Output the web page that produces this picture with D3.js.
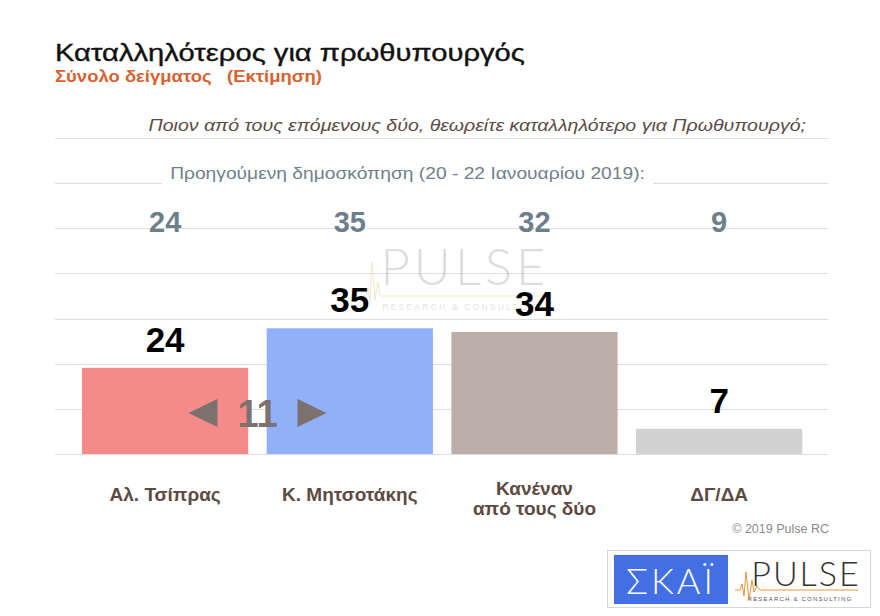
<!DOCTYPE html>
<html><head><meta charset="utf-8">
<script src="https://cdn.jsdelivr.net/npm/d3@7"></script>
<style>
html,body{margin:0;padding:0;background:#fff;}
svg{display:block;font-family:"Liberation Sans",Arial,sans-serif;}
</style></head>
<body><svg id="chart" width="880" height="616"></svg>
<script>
// ---- data ----
const categories = ["Αλ. Τσίπρας", "Κ. Μητσοτάκης", "Κανέναν\nαπό τους δύο", "ΔΓ/ΔΑ"];
const currentValues = [24, 35, 34, 7];
const previousValues = [24, 35, 32, 9];
const barColors = ["#f58b88", "#91b0f7", "#bcaea9", "#d2d2d2"];
const titleText = "Καταλληλότερος για πρωθυπουργός";
const subtitleText = "Σύνολο δείγματος   (Εκτίμηση)";
const questionText = "Ποιον από τους επόμενους δύο, θεωρείτε καταλληλότερο για Πρωθυπουργό;";
const previousLabel = "Προηγούμενη δημοσκόπηση (20 - 22 Ιανουαρίου 2019):";
const copyrightText = "© 2019 Pulse RC";

const svg = d3.select("#chart");

const x = d3.scaleBand().domain(categories).range([72.8, 811.5]).paddingInner(0.1).paddingOuter(0.05);
const y = d3.scaleLinear().domain([0, 88]).range([454, 138]);

// stretch a text horizontally to a target width, anchored at (ax, ay)
function fitText(sel, ax, ay, target) {
  sel.attr("x", 0).attr("y", 0);
  const len = sel.node().getComputedTextLength();
  const s = target / len;
  sel.attr("transform", `translate(${ax},${ay}) scale(${s},1)`);
  return sel;
}

// gridlines (7 equal bands of the value axis)
const gridVals = d3.range(0, 8).map(i => i * 88 / 7);
svg.append("g").selectAll("line").data(gridVals).join("line")
  .attr("x1", 55).attr("x2", 828)
  .attr("y1", d => Math.round(y(d)) + 0.5).attr("y2", d => Math.round(y(d)) + 0.5)
  .attr("stroke", "#dedede").attr("stroke-width", 1.2);

// title
fitText(svg.append("text").attr("font-size", 23).attr("fill", "#111")
  .attr("stroke", "#111").attr("stroke-width", 0.35).text(titleText), 55, 61, 470);
fitText(svg.append("text").attr("font-size", 16).attr("font-weight", "bold")
  .attr("fill", "#d8612f").style("white-space", "pre").text(subtitleText), 55, 82, 267);

// question
fitText(svg.append("text").attr("text-anchor", "end").attr("font-size", 15.8)
  .attr("font-style", "italic").attr("fill", "#5b4b46").text(questionText), 806, 131, 658);

// previous poll label with white background behind it
const bgRect = svg.append("rect").attr("fill", "#fff");
fitText(svg.append("text").attr("text-anchor", "middle")
  .attr("font-size", 16).attr("fill", "#6f808c").text(previousLabel), 407.5, 179, 475);
bgRect.attr("x", 407.5 - 475 / 2 - 8).attr("y", 166).attr("width", 475 + 16).attr("height", 20);

// watermark
const wm = svg.append("g").attr("opacity", 0.5);
wm.append("text").attr("x", 465).attr("y", 285).attr("text-anchor", "middle").attr("font-size", 51)
  .attr("font-family", "Lato, 'Open Sans', sans-serif").attr("font-weight", 300)
  .attr("letter-spacing", 4).attr("fill", "#bdbdbd").text("PULSE");
wm.append("text").attr("x", 462).attr("y", 310).attr("text-anchor", "middle").attr("font-size", 8.5)
  .attr("letter-spacing", 2.2).attr("fill", "#c8c8c8").text("RESEARCH & CONSULTING");
wm.append("path").attr("d", "M360,296 L366,296 L368,288 L370,302 L372,262 L375,300 L378,282 L380,296 L540,296")
  .attr("fill", "none").attr("stroke", "#f0cf9a").attr("stroke-width", 1);

// bars
svg.append("g").selectAll("rect").data(categories).join("rect")
  .attr("x", d => x(d)).attr("width", x.bandwidth())
  .attr("y", (d, i) => y(currentValues[i])).attr("height", (d, i) => y(0) - y(currentValues[i]))
  .attr("fill", (d, i) => barColors[i]);

// previous values
svg.append("g").selectAll("text").data(categories).join("text")
  .attr("x", d => x(d) + x.bandwidth() / 2).attr("y", 231.5).attr("text-anchor", "middle")
  .attr("font-size", 29).attr("font-weight", "bold").attr("fill", "#6e7f8b")
  .text((d, i) => previousValues[i]);

// current value labels
svg.append("g").selectAll("text").data(categories).join("text")
  .attr("x", d => x(d) + x.bandwidth() / 2).attr("y", (d, i) => y(currentValues[i]) - 16)
  .attr("text-anchor", "middle").attr("font-size", 35).attr("font-weight", "bold").attr("fill", "#000")
  .text((d, i) => currentValues[i]);

// lead indicator between first two bars
const lead = currentValues[1] - currentValues[0];
const gx = (x(categories[0]) + x.bandwidth() + x(categories[1])) / 2;
const gy = 413;
const lg = svg.append("g").attr("fill", "#7c716c");
lg.append("text").attr("x", gx).attr("y", gy + 14).attr("text-anchor", "middle")
  .attr("font-size", 38).attr("font-weight", "bold").text(lead);
lg.append("path").attr("d", `M${gx - 69},${gy} L${gx - 40},${gy - 14} L${gx - 40},${gy + 14} Z`);
lg.append("path").attr("d", `M${gx + 69},${gy} L${gx + 40},${gy - 14} L${gx + 40},${gy + 14} Z`);

// category labels
svg.append("g").selectAll("text").data(categories).join("text")
  .attr("text-anchor", "middle").attr("font-size", 19).attr("font-weight", "bold").attr("fill", "#5c4a44")
  .each(function(d) {
    const lines = d.split("\n");
    const t = d3.select(this);
    const cx = x(d) + x.bandwidth() / 2;
    const y0 = lines.length === 1 ? 501 : 495;
    lines.forEach((ln, k) => t.append("tspan").attr("x", cx).attr("y", y0 + k * 20).text(ln));
  });

// copyright
svg.append("text").attr("x", 829).attr("y", 533).attr("text-anchor", "end").attr("font-size", 12.5)
  .attr("fill", "#8a8a8a").text(copyrightText);

// logos box
const lb = svg.append("g");
lb.append("rect").attr("x", 607.5).attr("y", 550.5).attr("width", 263).attr("height", 57)
  .attr("fill", "#fff").attr("stroke", "#d6d6d6");
lb.append("rect").attr("x", 614).attr("y", 555).attr("width", 114).attr("height", 49).attr("fill", "#4270e2");
lb.append("text").attr("x", 671).attr("y", 594).attr("text-anchor", "middle").attr("font-size", 36)
  .attr("font-family", "Lato, 'Open Sans', sans-serif").attr("font-weight", 300)
  .attr("letter-spacing", 3).attr("fill", "#fff").text("ΣΚΑΪ");
lb.append("text").attr("x", 806).attr("y", 586).attr("text-anchor", "middle").attr("font-size", 34)
  .attr("font-family", "Lato, 'Open Sans', sans-serif").attr("font-weight", 300)
  .attr("letter-spacing", 2).attr("fill", "#333").text("PULSE");
lb.append("text").attr("x", 800).attr("y", 601).attr("text-anchor", "middle").attr("font-size", 6)
  .attr("letter-spacing", 1.2).attr("fill", "#555").text("RESEARCH & CONSULTING");
lb.append("path").attr("d", "M735,590 L740,590 L742,584 L744,596 L746,572 L749,600 L752,580 L754,592 L757,586 L760,590 L858,590")
  .attr("fill", "none").attr("stroke", "#e8953a").attr("stroke-width", 1);
</script>
</body></html>
